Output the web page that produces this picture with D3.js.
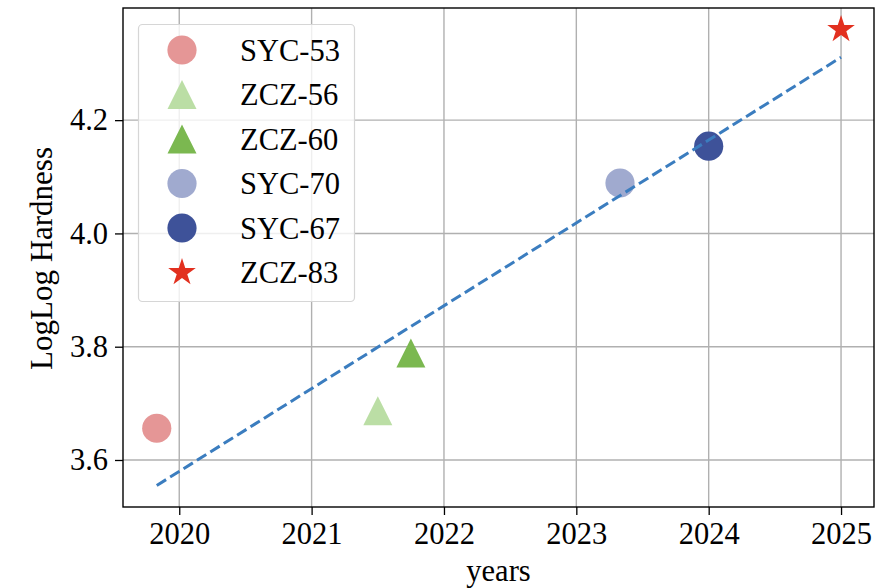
<!DOCTYPE html>
<html>
<head>
<meta charset="utf-8">
<script src="https://cdn.jsdelivr.net/npm/d3@7"></script>
<style>
  html, body { margin: 0; padding: 0; background: #fff; }
  svg { display: block; }
  svg text { font-family: "Liberation Serif", "Times New Roman", serif !important; }
</style>
</head>
<body>
<svg id="chart" width="876" height="588"></svg>
<script>
// ---- data ----
const names   = ["SYC-53", "ZCZ-56", "ZCZ-60", "SYC-70", "SYC-67", "ZCZ-83"];
const years   = [2019.83, 2021.50, 2021.75, 2023.33, 2024.00, 2025.00];
const values  = [3.656, 3.687, 3.789, 4.089, 4.154, 4.360];
const shapes  = ["circle", "triangle", "triangle", "circle", "circle", "star"];
const colors  = ["#e59696", "#bbdea5", "#7bb850", "#a0aacf", "#3e5299", "#e2301f"];
const trendYears  = [2019.83, 2025.00];
const trendValues = [3.555, 4.311];
const xTicks = [2020, 2021, 2022, 2023, 2024, 2025];
const yTicks = [3.6, 3.8, 4.0, 4.2];

// ---- layout ----
const svg = d3.select("#chart");
const L = 123, R = 874, T = 8, B = 507;
const x = d3.scaleLinear().domain([2019.575, 2025.249]).range([L, R]);
const y = d3.scaleLinear().domain([3.517, 4.398]).range([B, T]);
const FS = 30.5;
const SERIF = "'Liberation Serif', 'Times New Roman', serif";

// grid
const grid = svg.append("g");
grid.selectAll("line.gx").data(xTicks).join("line")
  .attr("x1", d => x(d)).attr("x2", d => x(d)).attr("y1", T).attr("y2", B)
  .attr("stroke", "#b0b0b0").attr("stroke-width", 1.4);
grid.selectAll("line.gy").data(yTicks).join("line")
  .attr("y1", d => y(d)).attr("y2", d => y(d)).attr("x1", L).attr("x2", R)
  .attr("stroke", "#b0b0b0").attr("stroke-width", 1.4);

// marker path generator
function markerPath(shape, s) {
  if (shape === "circle") return d3.symbol(d3.symbolCircle, Math.PI * s * s)();
  if (shape === "star") return d3.symbol(d3.symbolStar, (s * s) / 0.8908130915292852)();
  // matplotlib-style triangle '^'
  return `M0,${-s}L${-s},${s}L${s},${s}Z`;
}
const sizeOf = sh => sh === "circle" ? 14.6 : 14.5;

// points
const idx = d3.range(names.length);
svg.append("g").selectAll("path").data(idx).join("path")
  .attr("d", i => markerPath(shapes[i], sizeOf(shapes[i])))
  .attr("transform", i => `translate(${x(years[i])},${y(values[i])})`)
  .attr("fill", i => colors[i]);

// trend line
svg.append("path")
  .datum(d3.range(trendYears.length))
  .attr("d", d3.line().x(i => x(trendYears[i])).y(i => y(trendValues[i])))
  .attr("fill", "none").attr("stroke", "#3b7dbf").attr("stroke-width", 3)
  .attr("stroke-dasharray", "11,4.8");

// axes
const xAxis = d3.axisBottom(x).tickValues(xTicks).tickFormat(d3.format("d")).tickSize(8).tickPadding(7);
const yAxis = d3.axisLeft(y).tickValues(yTicks).tickFormat(d3.format(".1f")).tickSize(8).tickPadding(7);
const gx = svg.append("g").attr("transform", `translate(0,${B})`).call(xAxis);
const gy = svg.append("g").attr("transform", `translate(${L},0)`).call(yAxis);
[gx, gy].forEach(g => {
  g.attr("font-family", SERIF).attr("font-size", FS);
  g.select(".domain").remove();
  g.selectAll(".tick line").attr("stroke", "#000").attr("stroke-width", 1.3);
  g.selectAll(".tick text").attr("fill", "#000")
    .style("font-family", SERIF).style("font-size", FS + "px");
});

// spines
svg.append("rect").attr("x", L).attr("y", T).attr("width", R - L).attr("height", B - T)
  .attr("fill", "none").attr("stroke", "#000").attr("stroke-width", 1.4);

// axis labels
svg.append("text").attr("x", (L + R) / 2).attr("y", 581).attr("text-anchor", "middle")
  .style("font-size", "30.5px").text("years");
svg.append("text").attr("transform", `translate(52,${(T + B) / 2 + 1}) rotate(-90)`)
  .attr("text-anchor", "middle").style("font-size", "31px").text("LogLog Hardness");

// legend
const lg = svg.append("g");
lg.append("rect").attr("x", 138.5).attr("y", 24.5).attr("width", 216).attr("height", 277)
  .attr("rx", 4).attr("ry", 4)
  .attr("fill", "#fff").attr("fill-opacity", 0.8)
  .attr("stroke", "#d6d6d6").attr("stroke-width", 1.2);
const rowY = i => 50 + i * 44.5;
lg.selectAll("path").data(idx).join("path")
  .attr("d", i => markerPath(shapes[i], sizeOf(shapes[i])))
  .attr("transform", i => `translate(182,${rowY(i)})`)
  .attr("fill", i => colors[i]);
lg.selectAll("text").data(idx).join("text")
  .attr("x", 240).attr("y", i => rowY(i)).attr("dy", "0.35em")
  .style("font-size", FS + "px").text(i => names[i]);
</script>
</body>
</html>
